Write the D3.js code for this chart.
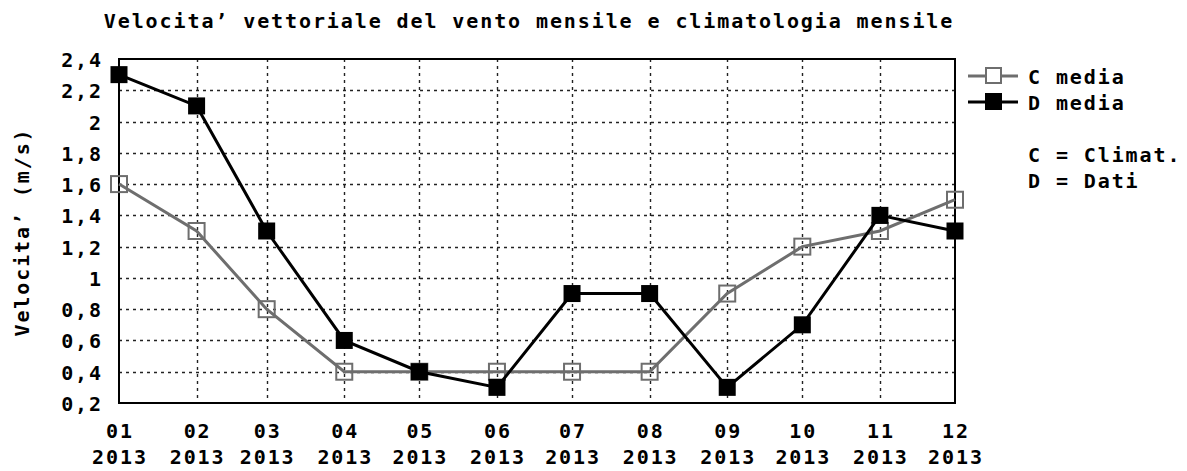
<!DOCTYPE html>
<html><head><meta charset="utf-8">
<script src="https://cdn.jsdelivr.net/npm/d3@7"></script>
<style>body{margin:0;background:#fff}text{font-family:"DejaVu Sans Mono",monospace;font-weight:bold;font-size:20px;letter-spacing:1.9px;fill:#000}</style>
</head><body><svg id="c" width="1187" height="471"></svg>
<script>
const months = ["2013-01-01","2013-02-01","2013-03-01","2013-04-01","2013-05-01","2013-06-01","2013-07-01","2013-08-01","2013-09-01","2013-10-01","2013-11-01","2013-12-01"];
const monthLabels = ["01","02","03","04","05","06","07","08","09","10","11","12"];
const yearLabels = ["2013","2013","2013","2013","2013","2013","2013","2013","2013","2013","2013","2013"];
const climValues = [1.6,1.3,0.8,0.4,0.4,0.4,0.4,0.4,0.9,1.2,1.3,1.5];
const datiValues = [2.3,2.1,1.3,0.6,0.4,0.3,0.9,0.9,0.3,0.7,1.4,1.3];
const yTicks = [0.2,0.4,0.6,0.8,1,1.2,1.4,1.6,1.8,2,2.2,2.4];
const title = "Velocita’ vettoriale del vento mensile e climatologia mensile";
const yTitle = "Velocita’ (m/s)";

const svg = d3.select("#c");
const L=119,R=955,T=59,B=403;
const dates = months.map(d=>new Date(d+"T00:00:00Z"));
const x = d3.scaleUtc().domain([dates[0],dates[dates.length-1]]).range([L,R]);
const y = d3.scaleLinear().domain([0.2,2.4]).range([B,T]);
const fmt = v => String(v).replace(".",",");

// grid
const g = svg.append("g");
g.selectAll(".hg").data(yTicks.slice(1,-1)).enter().append("line")
 .attr("x1",L).attr("x2",R).attr("y1",d=>Math.round(y(d))+0.5).attr("y2",d=>Math.round(y(d))+0.5)
 .attr("stroke","#222").attr("stroke-width",1.4).attr("stroke-dasharray","3,4");
g.selectAll(".vg").data(dates.slice(1,-1)).enter().append("line")
 .attr("y1",T).attr("y2",B).attr("x1",d=>Math.round(x(d))+0.5).attr("x2",d=>Math.round(x(d))+0.5)
 .attr("stroke","#222").attr("stroke-width",1.4).attr("stroke-dasharray","3,4");
// frame
svg.append("rect").attr("x",L).attr("y",T).attr("width",R-L).attr("height",B-T)
 .attr("fill","none").attr("stroke","#000").attr("stroke-width",2);

// axes labels
svg.selectAll(".yl").data(yTicks).enter().append("text")
 .attr("x",L-16).attr("y",d=>y(d)+8).attr("text-anchor","end").text(fmt);
svg.selectAll(".ml").data(dates).enter().append("text")
 .attr("x",d=>x(d)+1).attr("y",438).attr("text-anchor","middle").text((d,i)=>monthLabels[i]);
svg.selectAll(".yr").data(dates).enter().append("text")
 .attr("x",d=>x(d)+1).attr("y",464).attr("text-anchor","middle").text((d,i)=>yearLabels[i]);

svg.append("text").attr("x",529).attr("y",28).attr("text-anchor","middle").text(title);
svg.append("text").attr("transform","translate(29,232) rotate(-90)").attr("text-anchor","middle").text(yTitle);

const line = d3.line().x((d,i)=>x(dates[i])).y(d=>y(d));
const S=16;
svg.append("path").datum(climValues).attr("d",line).attr("fill","none").attr("stroke","#6e6e6e").attr("stroke-width",3);
svg.selectAll(".cm").data(climValues).enter().append("rect")
 .attr("x",(d,i)=>x(dates[i])-S/2).attr("y",d=>y(d)-S/2).attr("width",S).attr("height",S)
 .attr("fill","none").attr("stroke","#6e6e6e").attr("stroke-width",2);
svg.append("path").datum(datiValues).attr("d",line).attr("fill","none").attr("stroke","#000").attr("stroke-width",3);
svg.selectAll(".dm").data(datiValues).enter().append("rect")
 .attr("x",(d,i)=>x(dates[i])-8.5).attr("y",d=>y(d)-8.5).attr("width",17).attr("height",17)
 .attr("fill","#000");

// legend
const lg = svg.append("g");
lg.append("line").attr("x1",968).attr("x2",1018).attr("y1",76).attr("y2",76).attr("stroke","#6e6e6e").attr("stroke-width",3);
lg.append("rect").attr("x",986).attr("y",68).attr("width",15).attr("height",15).attr("fill","#fff").attr("stroke","#6e6e6e").attr("stroke-width",2);
lg.append("text").attr("x",1028).attr("y",84).text("C media");
lg.append("line").attr("x1",968).attr("x2",1018).attr("y1",102).attr("y2",102).attr("stroke","#000").attr("stroke-width",3);
lg.append("rect").attr("x",985).attr("y",93).attr("width",17).attr("height",17).attr("fill","#000");
lg.append("text").attr("x",1028).attr("y",110).text("D media");
lg.append("text").attr("x",1028).attr("y",162).text("C = Climat.");
lg.append("text").attr("x",1028).attr("y",188).text("D = Dati");
</script></body></html>
